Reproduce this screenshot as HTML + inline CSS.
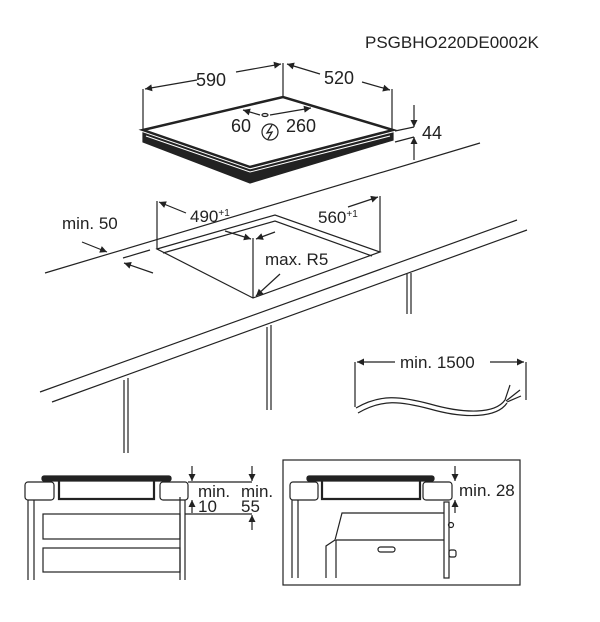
<!DOCTYPE html>
<html><head><style>
html,body{margin:0;padding:0;background:#fff;}
svg{display:block;}
text{font-family:"Liberation Sans",Arial,sans-serif;fill:#222;}
</style></head><body>
<svg width="600" height="622" viewBox="0 0 600 622" xmlns="http://www.w3.org/2000/svg">
<defs>
<marker id="a" viewBox="0 0 10 10" refX="10" refY="5" markerWidth="9" markerHeight="7" orient="auto-start-reverse" markerUnits="userSpaceOnUse"><path d="M0,0 L10,5 L0,10 z" fill="#222"/></marker>
</defs>
<g stroke="#222" fill="none" stroke-width="1.2">
<text x="365" y="48" font-size="17" stroke="none">PSGBHO220DE0002K</text>

<!-- hob -->
<polygon points="143,133 250,170 393,133 393,140 250,183 143,142" fill="#222" stroke="#222"/>
<polygon points="143,130 283,97 393,130 250,167" fill="#fff" stroke="#222" stroke-width="2.5"/>
<polyline points="146,136 250,172 390,136" stroke="#fff" stroke-width="1"/>
<line x1="143" y1="130" x2="143" y2="89"/>
<line x1="283" y1="97" x2="283" y2="63"/>
<line x1="392" y1="130" x2="392" y2="89"/>
<line x1="197" y1="80" x2="145" y2="89" marker-end="url(#a)"/>
<line x1="236" y1="72" x2="281" y2="64" marker-end="url(#a)"/>
<line x1="320" y1="74" x2="287" y2="64" marker-end="url(#a)"/>
<line x1="362" y1="82" x2="390" y2="90" marker-end="url(#a)"/>
<text x="196" y="86" font-size="18" stroke="none">590</text>
<text x="324" y="84" font-size="18" stroke="none">520</text>
<line x1="260" y1="115" x2="243" y2="110" marker-end="url(#a)"/>
<line x1="270" y1="115" x2="311" y2="108" marker-end="url(#a)"/>
<ellipse cx="265" cy="115" rx="3" ry="1.5"/>
<text x="231" y="132" font-size="18" stroke="none">60</text>
<text x="286" y="132" font-size="18" stroke="none">260</text>
<circle cx="270" cy="132" r="8"/>
<path d="M272,125 L267,133 L272,132 L268,139" stroke-width="1.3"/>
<line x1="395" y1="131" x2="414" y2="127"/>
<line x1="395" y1="142" x2="414" y2="137"/>
<line x1="414" y1="105" x2="414" y2="127" marker-end="url(#a)"/>
<line x1="414" y1="160" x2="414" y2="137" marker-end="url(#a)"/>
<text x="422" y="139" font-size="18" stroke="none">44</text>

<!-- counter -->
<line x1="45" y1="273" x2="480" y2="143"/>
<line x1="40" y1="392" x2="517" y2="220"/>
<line x1="52" y1="402" x2="527" y2="230"/>
<!-- cutout -->
<polygon points="157,249 275,215 380,252 253,298" fill="#fff"/>
<polyline points="163,253 275,221 372,256"/>
<line x1="157" y1="249" x2="157" y2="201"/>
<line x1="380" y1="252" x2="380" y2="196"/>
<line x1="253" y1="298" x2="253" y2="238"/>
<line x1="186" y1="213" x2="159" y2="202" marker-end="url(#a)"/>
<line x1="225" y1="231" x2="251" y2="239" marker-end="url(#a)"/>
<line x1="275" y1="232" x2="256" y2="239" marker-end="url(#a)"/>
<line x1="348" y1="207" x2="378" y2="197" marker-end="url(#a)"/>
<text x="190" y="222" font-size="17" stroke="none">490<tspan font-size="10" dy="-6">+1</tspan></text>
<text x="318" y="223" font-size="17" stroke="none">560<tspan font-size="10" dy="-6">+1</tspan></text>
<text x="265" y="265" font-size="17" stroke="none">max. R5</text>
<line x1="280" y1="274" x2="256" y2="296" marker-end="url(#a)"/>
<text x="62" y="229" font-size="17" stroke="none">min. 50</text>
<line x1="82" y1="242" x2="107" y2="252" marker-end="url(#a)"/>
<line x1="153" y1="273" x2="124" y2="263" marker-end="url(#a)"/>
<line x1="123" y1="258" x2="150" y2="250"/>
<!-- legs -->
<line x1="124" y1="380" x2="124" y2="453"/><line x1="128" y1="378" x2="128" y2="453"/>
<line x1="267" y1="327" x2="267" y2="410"/><line x1="271" y1="325" x2="271" y2="410"/>
<line x1="407" y1="274" x2="407" y2="314"/><line x1="411" y1="273" x2="411" y2="314"/>

<!-- cable -->
<line x1="355" y1="362" x2="355" y2="407"/>
<line x1="526" y1="362" x2="526" y2="400"/>
<line x1="395" y1="362" x2="357" y2="362" marker-end="url(#a)"/>
<line x1="490" y1="362" x2="524" y2="362" marker-end="url(#a)"/>
<text x="400" y="368" font-size="17" stroke="none">min. 1500</text>
<path d="M356,408 C380,394 400,396 430,404 C465,414 495,414 505,400"/>
<path d="M358,413 C382,399 400,401 430,409 C465,419 497,418 507,403"/>
<path d="M505,400 L510,385 M506,401 L520,390 M507,402 L521,396"/>

<!-- bottom left -->
<rect x="25" y="482" width="29" height="18" rx="3"/>
<rect x="160" y="482" width="28" height="18" rx="3"/>
<rect x="42" y="476" width="129" height="5" fill="#222" rx="2"/>
<polyline points="59,481 59,499 154,499 154,481" stroke-width="2.2"/>
<line x1="28" y1="500" x2="28" y2="580"/><line x1="34" y1="500" x2="34" y2="580"/>
<line x1="180" y1="497" x2="180" y2="580"/><line x1="185" y1="500" x2="185" y2="580"/>
<rect x="43" y="514" width="137" height="25"/>
<rect x="43" y="548" width="137" height="24"/>
<line x1="188" y1="482" x2="252" y2="482"/>
<line x1="185" y1="514" x2="252" y2="514"/>
<line x1="192" y1="466" x2="192" y2="481" marker-end="url(#a)"/>
<line x1="192" y1="513" x2="192" y2="500" marker-end="url(#a)"/>
<line x1="252" y1="466" x2="252" y2="481" marker-end="url(#a)"/>
<line x1="252" y1="530" x2="252" y2="515" marker-end="url(#a)"/>
<text x="198" y="497" font-size="17" stroke="none">min.</text>
<text x="198" y="512" font-size="17" stroke="none">10</text>
<text x="241" y="497" font-size="17" stroke="none">min.</text>
<text x="241" y="512" font-size="17" stroke="none">55</text>

<!-- bottom right -->
<rect x="283" y="460" width="237" height="125"/>
<rect x="290" y="482" width="28" height="18" rx="3"/>
<rect x="423" y="482" width="29" height="18" rx="3"/>
<rect x="307" y="476" width="127" height="5" fill="#222" rx="2"/>
<polyline points="322,481 322,499 420,499 420,481" stroke-width="2.2"/>
<line x1="292" y1="500" x2="292" y2="578"/><line x1="298" y1="500" x2="298" y2="578"/>
<polyline points="444,513 342,513 335,540 326,546 326,578"/>
<line x1="336" y1="540" x2="336" y2="578"/>
<line x1="336" y1="540" x2="444" y2="540"/>
<rect x="444" y="502" width="5" height="76"/>
<circle cx="451" cy="525" r="2.5"/>
<rect x="449" y="550" width="7" height="7" rx="2"/>
<rect x="378" y="547" width="17" height="5" rx="2.5"/>
<line x1="455" y1="466" x2="455" y2="481" marker-end="url(#a)"/>
<line x1="455" y1="513" x2="455" y2="500" marker-end="url(#a)"/>
<text x="459" y="496" font-size="17" stroke="none">min. 28</text>
</g>
</svg>
</body></html>
